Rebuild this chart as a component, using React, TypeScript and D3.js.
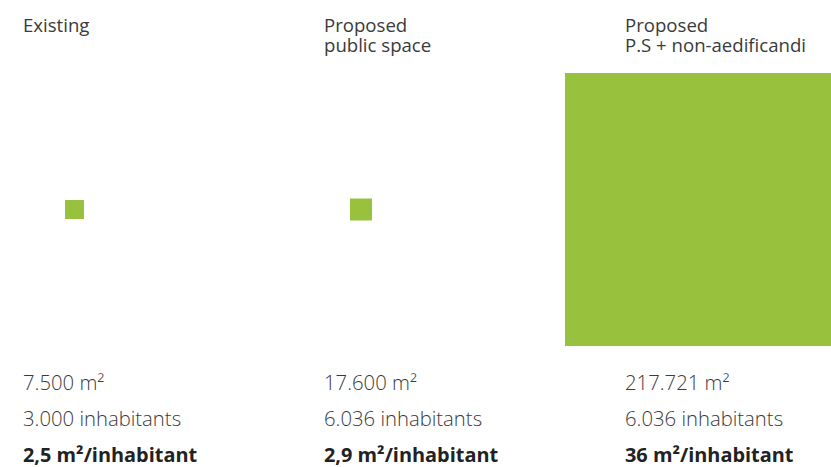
import React from "react";
import * as d3 from "d3";

const categories = ["Existing", "Proposed\npublic space", "Proposed\nP.S + non-aedificandi"];
const areaM2 = ["7.500", "17.600", "217.721"];
const inhabitants = ["3.000", "6.036", "6.036"];
const perInhabitant = [2.5, 2.9, 36];
const perInhabitantLabels = ["2,5", "2,9", "36"];

const W = 831;
const H = 467;
const GREEN = "#98c13e";
const TEXT = "#3a3a3a";
// horizontal offset of each square's center from its column's text origin
const squareOffsets = [51.5, 37, 76.5];

export default function App() {
  const col = d3
    .scalePoint<number>()
    .domain(d3.range(categories.length))
    .range([23, 625]);
  const side = d3.scaleLinear().domain([0, 36]).range([0, 273]);
  const centerY = 209.5;

  return (
    <div style={{ position: "absolute", left: 0, top: 0 }}>
      <svg width={W} height={H} viewBox={`0 0 ${W} ${H}`} style={{ display: "block" }}>
        <rect width={W} height={H} fill="#fff" />
        {categories.map((c, i) => {
          const x0 = col(i) as number;
          const s = side(perInhabitant[i]);
          const cx = x0 + squareOffsets[i];
          return (
            <g key={i}>
              {c.split("\n").map((line, j) => (
                <text
                  key={j}
                  x={x0}
                  y={31.5 + j * 20.5}
                  fill={TEXT}
                  style={{ fontFamily: "'Open Sans', sans-serif", fontSize: 18.6, fontWeight: 400 }}
                >
                  {line}
                </text>
              ))}
              <rect x={cx - s / 2} y={centerY - s / 2} width={s} height={s} fill={GREEN} />
              <g style={{ fontFamily: "'Open Sans', sans-serif", fontSize: 20.3 }} fill={TEXT}>
                <text x={x0} y={390} style={{ fontWeight: 300 }}>
                  {areaM2[i]} m²
                </text>
                <text x={x0} y={426} style={{ fontWeight: 300 }}>
                  {inhabitants[i]} inhabitants
                </text>
                <text x={x0} y={462} style={{ fontWeight: 700, fontSize: 19.9 }} fill="#222">
                  {perInhabitantLabels[i]} m²/inhabitant
                </text>
              </g>
            </g>
          );
        })}
      </svg>
    </div>
  );
}
